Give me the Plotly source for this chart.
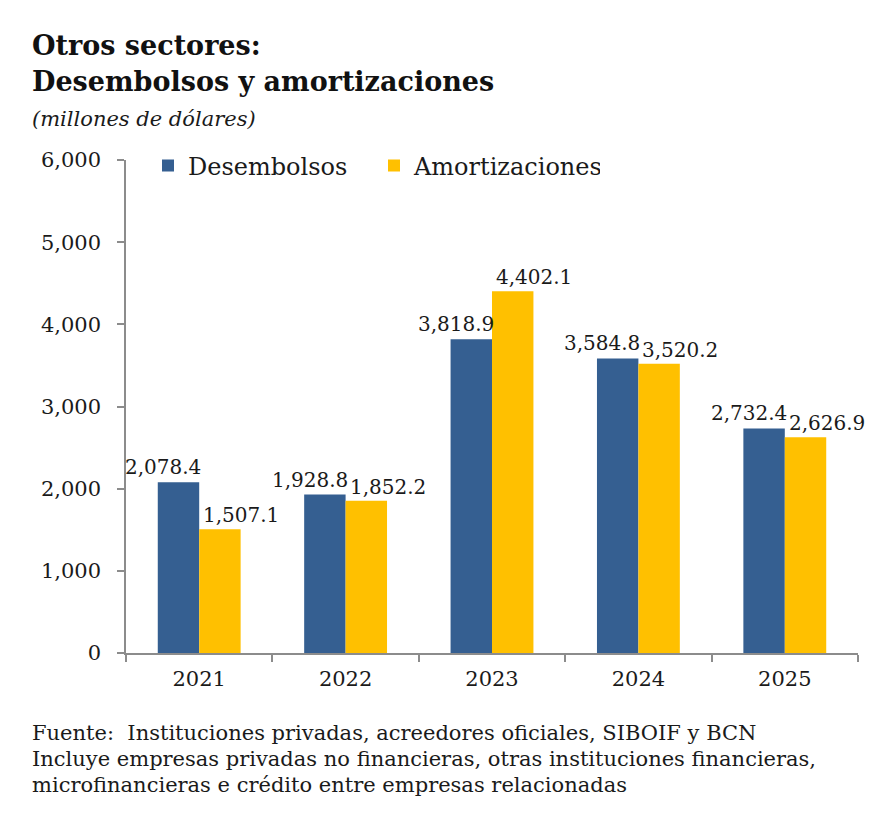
import plotly.graph_objects as go

years = ["2021", "2022", "2023", "2024", "2025"]
desembolsos = [2078.4, 1928.8, 3818.9, 3584.8, 2732.4]
amortizaciones = [1507.1, 1852.2, 4402.1, 3520.2, 2626.9]
y_ticks = [0, 1000, 2000, 3000, 4000, 5000, 6000]
y_tick_labels = ["0", "1,000", "2,000", "3,000", "4,000", "5,000", "6,000"]

FONT = "DejaVu Serif"
BLUE = "#355F91"
YELLOW = "#FFC000"
TXT = "#1a1a1a"

# screen-pixel helpers (page has an 8px body margin)
PL, PT, PW, PH = 126, 160, 732, 493
def px(xs):
    return (xs - PL) / PW
def py(ys):
    return (PT + PH - ys) / PH

fig = go.Figure()
fig.add_trace(go.Bar(x=years, y=desembolsos, name="Desembolsos", marker_color=BLUE,
                     marker_line_width=0))
fig.add_trace(go.Bar(x=years, y=amortizaciones, name="Amortizaciones", marker_color=YELLOW,
                     marker_line_width=0))

fig.update_layout(
    width=884, height=828,
    paper_bgcolor="white", plot_bgcolor="white",
    margin=dict(l=118, r=34, t=152, b=183),
    barmode="group", bargap=0.434, bargroupgap=0,
    font=dict(family=FONT, size=20, color=TXT),
    showlegend=True,
    legend=dict(orientation="h", x=px(148), y=py(166), xanchor="left", yanchor="middle",
                font=dict(family=FONT, size=24, color=TXT),
                itemwidth=30, traceorder="normal", bgcolor="rgba(0,0,0,0)",
                entrywidth=181, entrywidthmode="pixels",
                itemclick=False),
    xaxis=dict(type="category", range=[-0.5, len(years) - 0.5],
               showline=True, linecolor="#8c8c8c", linewidth=1.5,
               ticks="outside", tickson="boundaries", ticklen=7, tickcolor="#8c8c8c",
               tickwidth=1.5, ticklabelstandoff=6,
               tickfont=dict(family=FONT, size=21, color=TXT), showgrid=False),
    yaxis=dict(range=[0, 6000], tickvals=y_ticks, ticktext=y_tick_labels,
               showline=True, linecolor="#8c8c8c", linewidth=1.5,
               ticks="outside", ticklen=7, tickcolor="#8c8c8c", tickwidth=1.5,
               showgrid=False, zeroline=False, ticklabelstandoff=12,
               tickfont=dict(family=FONT, size=21, color=TXT)),
)

# data labels: Desembolsos to the left of group centre, Amortizaciones to the right
for i, v in enumerate(desembolsos):
    fig.add_annotation(x=i, y=v, xref="x", yref="y", text=f"{v:,.1f}",
                       xanchor="right", yanchor="middle", xshift=4, yshift=15,
                       showarrow=False, font=dict(family=FONT, size=20, color=TXT))
for i, v in enumerate(amortizaciones):
    fig.add_annotation(x=i, y=v, xref="x", yref="y", text=f"{v:,.1f}",
                       xanchor="left", yanchor="middle", xshift=2, yshift=14,
                       showarrow=False, font=dict(family=FONT, size=20, color=TXT))

fig.add_annotation(text="<b>Otros sectores:</b>", xref="paper", yref="paper",
                   x=px(30), y=py(45), xanchor="left", yanchor="middle",
                   showarrow=False, font=dict(family=FONT, size=27, color="#111"))
fig.add_annotation(text="<b>Desembolsos y amortizaciones</b>", xref="paper", yref="paper",
                   x=px(30), y=py(82), xanchor="left", yanchor="middle",
                   showarrow=False, font=dict(family=FONT, size=27, color="#111"))
fig.add_annotation(text="<i>(millones de dólares)</i>", xref="paper", yref="paper",
                   x=px(30), y=py(119), xanchor="left", yanchor="middle",
                   showarrow=False, font=dict(family=FONT, size=21, color=TXT))

foot = [
    "Fuente:  Instituciones privadas, acreedores oficiales, SIBOIF y BCN",
    "Incluye empresas privadas no financieras, otras instituciones financieras,",
    "microfinancieras e crédito entre empresas relacionadas",
]
for i, line in enumerate(foot):
    fig.add_annotation(text=line, xref="paper", yref="paper",
                       x=px(30), y=py(733 + i * 26), xanchor="left", yanchor="middle",
                       showarrow=False, font=dict(family=FONT, size=21, color=TXT))

fig.write_html("out.html")
